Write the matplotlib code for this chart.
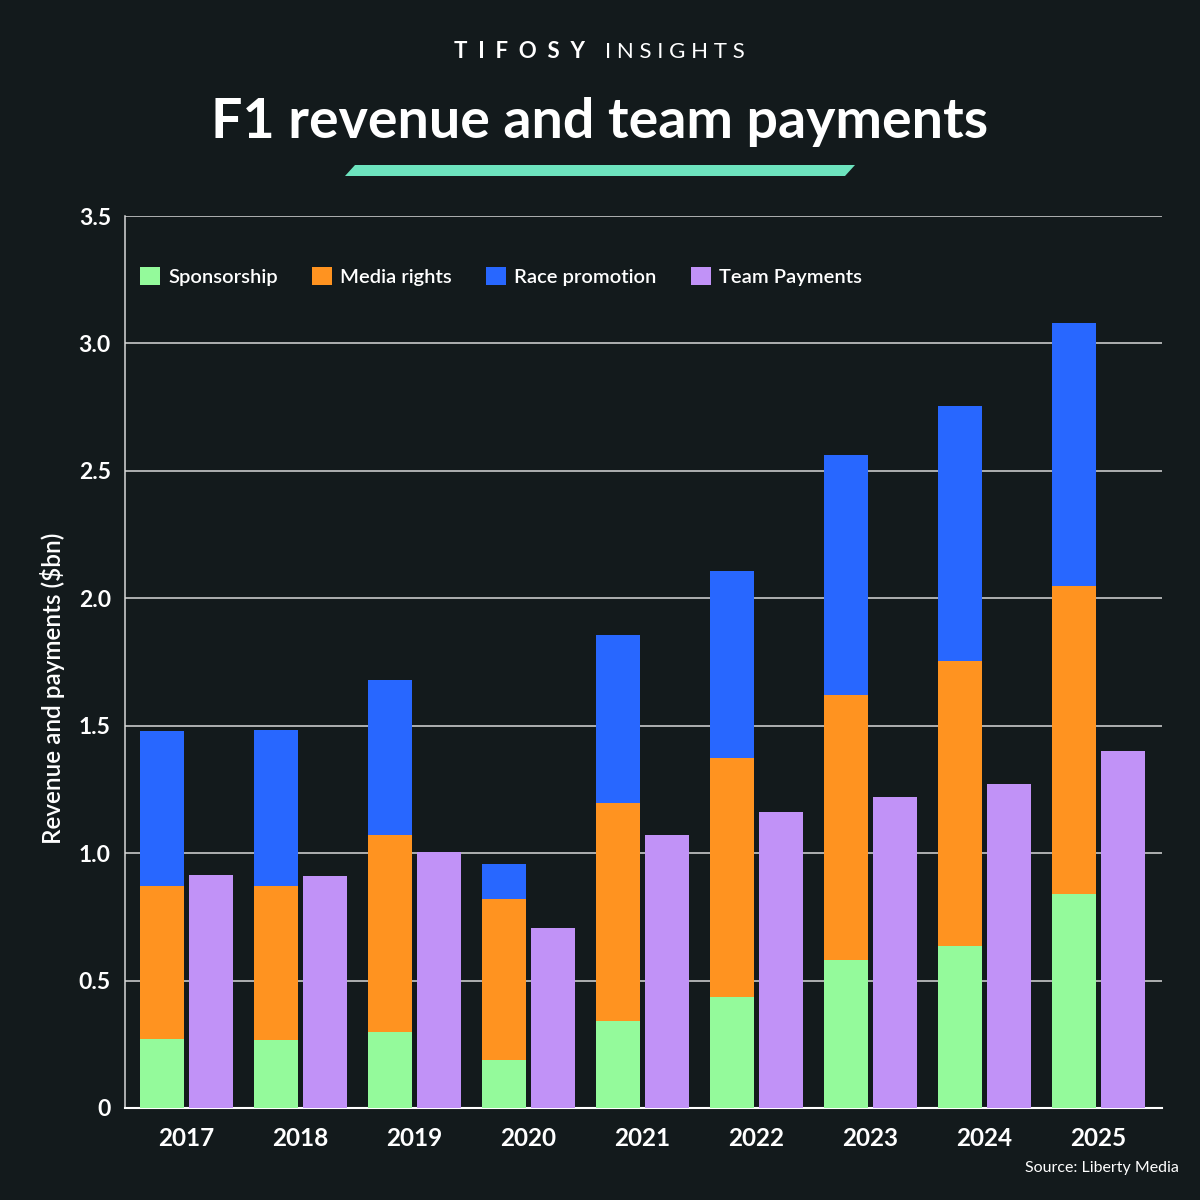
import matplotlib.pyplot as plt
import numpy as np
from matplotlib.patches import Polygon


BG = '#131a1c'
GREEN = '#94fa9b'
ORANGE = '#ff9320'
BLUE = '#2867ff'
PURPLE = '#c192f7'
TEAL = '#6de3be'

years = ['2017', '2018', '2019', '2020', '2021', '2022', '2023', '2024', '2025']
sponsorship = [0.27, 0.265, 0.30, 0.19, 0.34, 0.435, 0.58, 0.635, 0.84]
media_rights = [0.60, 0.605, 0.77, 0.63, 0.855, 0.937, 1.04, 1.12, 1.21]
race_promotion = [0.61, 0.615, 0.61, 0.137, 0.662, 0.735, 0.942, 0.998, 1.032]
team_payments = [0.915, 0.909, 1.005, 0.706, 1.07, 1.16, 1.22, 1.27, 1.40]

y_ticks = [0, 0.5, 1.0, 1.5, 2.0, 2.5, 3.0, 3.5]
y_tick_labels = ['0', '0.5', '1.0', '1.5', '2.0', '2.5', '3.0', '3.5']

plt.rcParams['font.family'] = ['Lato', 'DejaVu Sans']

fig = plt.figure(figsize=(12, 12), dpi=100, facecolor=BG)
ax = fig.add_axes([0.104, 0.0767, 0.864, 0.7433], facecolor=BG)

x = np.arange(len(years))
width = 0.386
offset = 0.215

spons = np.array(sponsorship)
media = np.array(media_rights)
race = np.array(race_promotion)

ax.bar(x - offset, spons, width, color=GREEN, label='Sponsorship', zorder=3)
ax.bar(x - offset, media, width, bottom=spons, color=ORANGE, label='Media rights', zorder=3)
ax.bar(x - offset, race, width, bottom=spons + media, color=BLUE, label='Race promotion', zorder=3)
ax.bar(x + offset, team_payments, width, color=PURPLE, label='Team Payments', zorder=3)

ax.set_xlim(-0.54, len(years) - 1 + 0.557)
ax.set_ylim(0, 3.5)
ax.set_yticks(y_ticks)
ax.set_yticklabels(y_tick_labels)
ax.set_xticks(x)
ax.set_xticklabels(years)

ax.grid(axis='y', color='#d8d8d8', linewidth=1.1, zorder=0)
ax.tick_params(axis='both', length=0, colors='white')
ax.tick_params(axis='x', labelsize=17.5, pad=14)
ax.tick_params(axis='y', labelsize=16.5, pad=10)
for lbl in ax.get_xticklabels() + ax.get_yticklabels():
    lbl.set_fontweight('bold')

for side in ['top', 'right']:
    ax.spines[side].set_visible(False)
ax.spines['left'].set_color('#d8d8d8')
ax.spines['bottom'].set_color('white')
ax.spines['left'].set_linewidth(1.1)
ax.spines['bottom'].set_linewidth(1.5)

ax.set_ylabel('Revenue and payments ($bn)', color='white', fontsize=17.5,
              fontweight='semibold')
ax.yaxis.set_label_coords(-0.058, 0.471)

leg = ax.legend(loc='upper left', bbox_to_anchor=(0.0, 0.96), ncol=4, frameon=False,
                fontsize=14.5, handlelength=1.0, handleheight=1.0, handletextpad=0.4,
                columnspacing=1.7, borderaxespad=0.35)
for t in leg.get_texts():
    t.set_color('white')
    t.set_fontweight('semibold')

# header
fig.text(585 / 1200, 0.957, 'T  I  F  O  S  Y', ha='right', va='center', color='white',
         fontsize=16, fontweight='bold')
fig.text(605 / 1200, 0.957, 'I N S I G H T S', ha='left', va='center', color='white',
         fontsize=16, fontweight='normal')
fig.text(0.5, 0.898, 'F1 revenue and team payments', ha='center', va='center',
         color='white', fontsize=40, fontweight='bold')

bar_shape = Polygon([(345 / 1200, 1 - 176 / 1200), (355 / 1200, 1 - 165 / 1200),
                     (855 / 1200, 1 - 165 / 1200), (845 / 1200, 1 - 176 / 1200)],
                    closed=True, transform=fig.transFigure, facecolor=TEAL,
                    edgecolor='none')
fig.patches.append(bar_shape)

fig.text(0.982, 0.027, 'Source: Liberty Media', ha='right', va='center',
         color='white', fontsize=11.5)

plt.savefig('out.png', dpi=100, facecolor=BG)
plt.close(fig)
